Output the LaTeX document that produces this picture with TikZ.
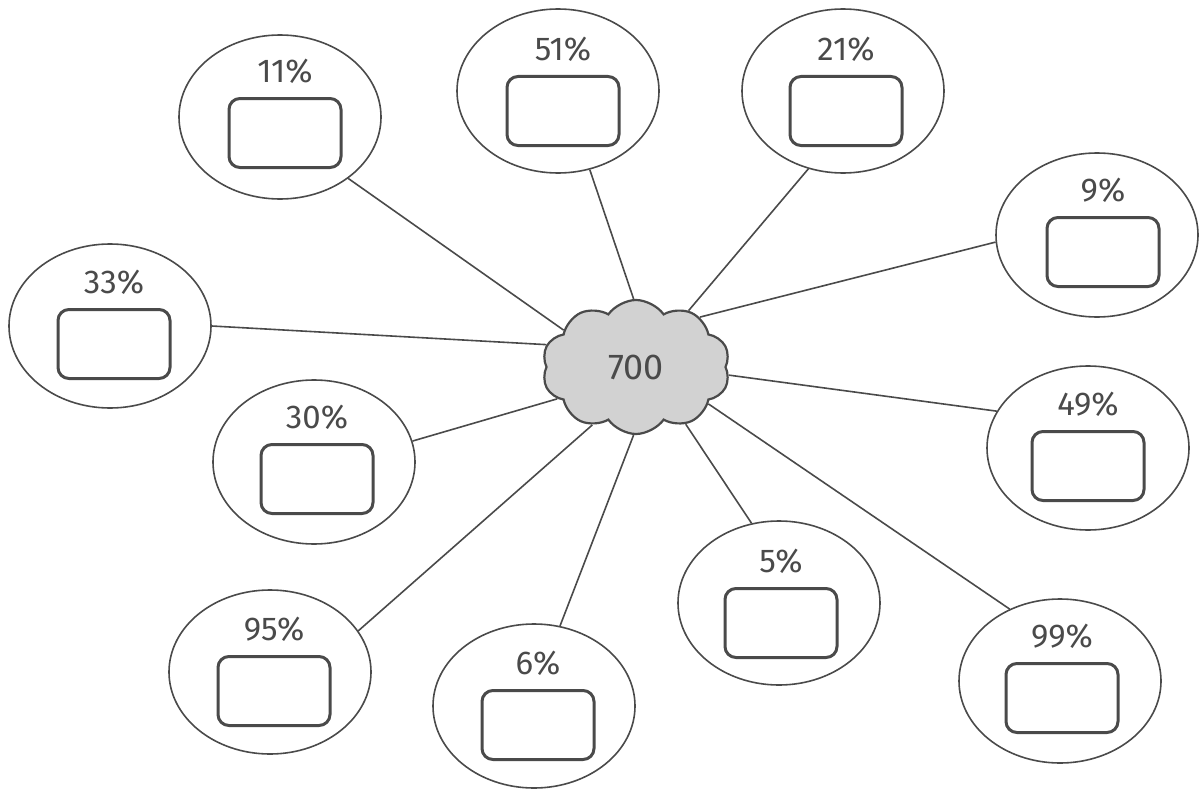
\documentclass[tikz,border=0pt]{standalone}
\usepackage{fontspec}
\setmainfont{Fira Sans}
\usetikzlibrary{shapes.geometric, shapes.symbols, positioning}
\definecolor{inkgray}{HTML}{4A4A4A}
\definecolor{cloudgray}{HTML}{D2D2D2}

\begin{document}
\begin{tikzpicture}[x = 1pt, y = -1pt, node distance = 13pt and 13pt]
        \tikzstyle{bubble} = [ellipse, draw = inkgray, line width = 1.6pt, minimum width = 202pt, minimum height = 164pt, inner sep = 0pt]
        \tikzstyle{answer} = [rectangle, rounded corners = 11pt, draw = inkgray, line width = 3pt, minimum width = 112pt, minimum height = 69pt]
        \tikzstyle{pct} = [inner sep = 0pt, text = inkgray, font = \fontsize{33}{36}\selectfont]
        \tikzstyle{connect} = [draw = inkgray, line width = 1.6pt]
        \useasboundingbox (0,0) rectangle (1202,792);
        \node[cloud, cloud puffs = 10, cloud puff arc = 110, aspect = 1.4, minimum width = 188pt, minimum height = 134pt, inner sep = 0pt, draw = inkgray, fill = cloudgray, line width = 2.2pt, text = inkgray, font = \fontsize{36}{40}\selectfont] (total) at (636,367) {700};
        % top row
        \node[bubble] (e11) at (280,117) {};
        \node[answer] (b11) at (285,133) {};
        \node[pct, above=of b11] (t11) {11\%};
        \node[bubble] (e51) at (558,91) {};
        \node[answer] (b51) at (563,111) {};
        \node[pct, above=of b51] (t51) {51\%};
        \node[bubble] (e21) at (843,91) {};
        \node[answer] (b21) at (846,111) {};
        \node[pct, above=of b21] (t21) {21\%};
        \node[bubble] (e9) at (1097,235) {};
        \node[answer] (b9) at (1103,252) {};
        \node[pct, above=of b9] (t9) {9\%};
        % middle
        \node[bubble] (e33) at (110,326) {};
        \node[answer] (b33) at (114,344) {};
        \node[pct, above=of b33] (t33) {33\%};
        \node[bubble] (e30) at (314,462) {};
        \node[answer] (b30) at (317,479) {};
        \node[pct, above=of b30] (t30) {30\%};
        \node[bubble] (e49) at (1088,448) {};
        \node[answer] (b49) at (1088,466) {};
        \node[pct, above=of b49] (t49) {49\%};
        % bottom row
        \node[bubble] (e95) at (270,672) {};
        \node[answer] (b95) at (274,691) {};
        \node[pct, above=of b95] (t95) {95\%};
        \node[bubble] (e6) at (534,706) {};
        \node[answer] (b6) at (538,725) {};
        \node[pct, above=of b6] (t6) {6\%};
        \node[bubble] (e5) at (779,603) {};
        \node[answer] (b5) at (781,623) {};
        \node[pct, above=of b5] (t5) {5\%};
        \node[bubble] (e99) at (1060,681) {};
        \node[answer] (b99) at (1062,698) {};
        \node[pct, above=of b99] (t99) {99\%};
        \path (total.153) edge [connect] (e11.-42) (total.92) edge [connect] (e51.-68) (total.47) edge [connect] (e21.-114) (total.38) edge [connect] (e9.184);
        \path (total.166) edge [connect] (e33.0) (total.202) edge [connect] (e30.12) (total.-5) edge [connect] (e49.158);
        \path (total.233) edge [connect] (e95.25) (total.268) edge [connect] (e6.72) (total.-49) edge [connect] (e5.109) (total.-27) edge [connect] (e99.125);
      \end{tikzpicture}
\end{document}
